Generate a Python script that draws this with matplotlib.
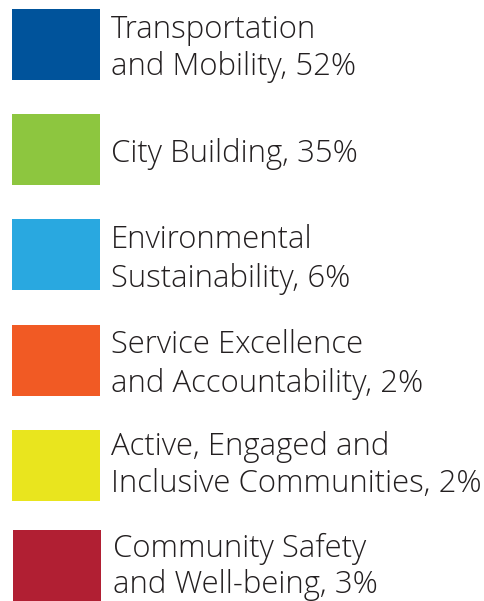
import matplotlib
matplotlib.use("Agg")
import matplotlib.pyplot as plt
from matplotlib.patches import Rectangle

categories = [
    ["Transportation", "and Mobility, 52%"],
    ["City Building, 35%"],
    ["Environmental", "Sustainability, 6%"],
    ["Service Excellence", "and Accountability, 2%"],
    ["Active, Engaged and", "Inclusive Communities, 2%"],
    ["Community Safety", "and Well-being, 3%"],
]
values = [52, 35, 6, 2, 2, 3]
colors = ["#00539b", "#8dc63f", "#29a8e0", "#f15a24", "#e9e51e", "#b11f33"]

# layout (pixels)
swatch_tops = [9, 114, 219, 325, 430, 530]
swatch_x = [12, 12, 12, 12, 12, 13]
text_x = [111, 111, 111, 111, 111, 113]
baselines = [[38, 75], [162], [248, 287], [353, 392], [455, 492], [557, 593]]
sw_w, sw_h = 88, 71

W, H = 485, 601
fig = plt.figure(figsize=(W / 100, H / 100), dpi=100)
ax = fig.add_axes([0, 0, 1, 1])
ax.set_xlim(0, W)
ax.set_ylim(H, 0)
ax.axis("off")

for i, lines in enumerate(categories):
    ax.add_patch(Rectangle((swatch_x[i], swatch_tops[i]), sw_w, sw_h,
                           facecolor=colors[i], edgecolor="none"))
    for line, b in zip(lines, baselines[i]):
        ax.text(text_x[i], b, line, family="Open Sans", fontsize=22.4,
                fontweight="light", color="#231f20", va="baseline", ha="left")

fig.savefig("out.png", dpi=100)
